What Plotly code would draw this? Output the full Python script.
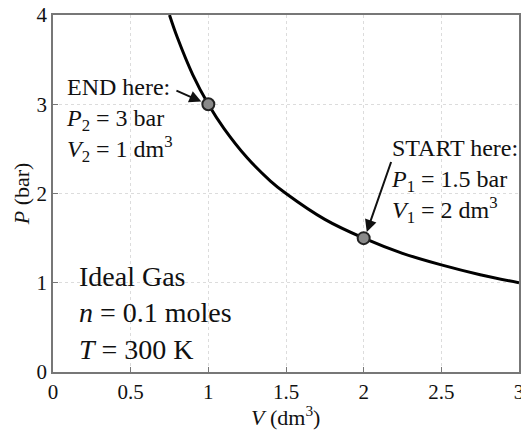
import plotly.graph_objects as go

# Isotherm (V in dm^3, P in bar)
V_curve = [0.75, 0.8, 0.9, 1.0, 1.1, 1.25, 1.4, 1.5, 1.75, 2.0, 2.25, 2.5, 2.75, 3.0]
P_curve = [4.0, 3.75, 3.33, 3.0, 2.73, 2.4, 2.14, 2.0, 1.71, 1.5, 1.33, 1.2, 1.09, 1.0]

# Marked states
V_pts = [1.0, 2.0]
P_pts = [3.0, 1.5]

x_ticks = [0, 0.5, 1, 1.5, 2, 2.5, 3]
x_tick_labels = ["0", "0.5", "1", "1.5", "2", "2.5", "3"]
y_ticks = [0, 1, 2, 3, 4]
y_tick_labels = ["0", "1", "2", "3", "4"]

FONT = "Liberation Serif"
TXT = "#111111"

fig = go.Figure()
fig.add_trace(go.Scatter(x=V_curve, y=P_curve, mode="lines", line=dict(color="black", width=3, shape="spline"),
                         showlegend=False, hoverinfo="skip"))
fig.add_trace(go.Scatter(x=V_pts, y=P_pts, mode="markers",
                         marker=dict(size=12, color="#8a8a8a", line=dict(color="#222222", width=2)),
                         showlegend=False))

ann = []
ann.append(dict(x=0.07, y=3.365, xref="x", yref="y", xanchor="left", yanchor="top", align="left", showarrow=False,
                text="END here:<br><i>P</i><sub>2</sub> = 3 bar<br><i>V</i><sub>2</sub> = 1 dm<sup>3</sup>",
                font=dict(family=FONT, size=24, color=TXT)))
ann.append(dict(x=2.16, y=2.68, xref="x", yref="y", xanchor="left", yanchor="top", align="left", showarrow=False,
                text="START here:<br><i>P</i><sub>1</sub> = 1.5 bar<br><i>V</i><sub>1</sub> = 2 dm<sup>3</sup>",
                font=dict(family=FONT, size=24, color=TXT)))
ann.append(dict(x=0.155, y=1.27, xref="x", yref="y", xanchor="left", yanchor="top", align="left", showarrow=False,
                text="Ideal Gas<br><i>n</i> = 0.1 moles<br><i>T</i> = 300 K",
                font=dict(family=FONT, size=28, color=TXT)))
# arrows
ann.append(dict(x=0.955, y=3.03, ax=0.785, ay=3.16, xref="x", yref="y", axref="x", ayref="y", text="",
                showarrow=True, arrowhead=2, arrowsize=1.2, arrowwidth=2, arrowcolor=TXT))
ann.append(dict(x=2.02, y=1.57, ax=2.18, ay=2.37, xref="x", yref="y", axref="x", ayref="y", text="",
                showarrow=True, arrowhead=2, arrowsize=1.2, arrowwidth=2, arrowcolor=TXT))
# axis titles
ann.append(dict(x=0.498, y=-0.122, xref="paper", yref="paper", xanchor="center", yanchor="middle", showarrow=False,
                text="<i>V</i> (dm<sup>3</sup>)", font=dict(family=FONT, size=22, color=TXT)))
ann.append(dict(x=-0.067, y=0.5, xref="paper", yref="paper", xanchor="center", yanchor="middle", showarrow=False,
                textangle=-90, text="<i>P</i> (bar)", font=dict(family=FONT, size=22, color=TXT)))

axis_common = dict(showgrid=True, gridcolor="#dcdcdc", griddash="dot", gridwidth=1, zeroline=False,
                   showline=True, linecolor="#777777", linewidth=1.5, mirror=True,
                   ticks="inside", ticklen=5, tickcolor="#777777", automargin=False,
                   ticklabeloverflow="allow",
                   tickfont=dict(family=FONT, size=21, color=TXT))

fig.update_layout(
    width=529, height=432,
    margin=dict(l=45, r=18, t=7, b=68, autoexpand=False),
    paper_bgcolor="white", plot_bgcolor="white",
    font=dict(family=FONT, size=22, color=TXT),
    annotations=ann,
    xaxis=dict(range=[0, 3], tickvals=x_ticks, ticktext=x_tick_labels, **axis_common),
    yaxis=dict(range=[0, 4], tickvals=y_ticks, ticktext=y_tick_labels, **axis_common),
)

fig.write_html("out.html")
